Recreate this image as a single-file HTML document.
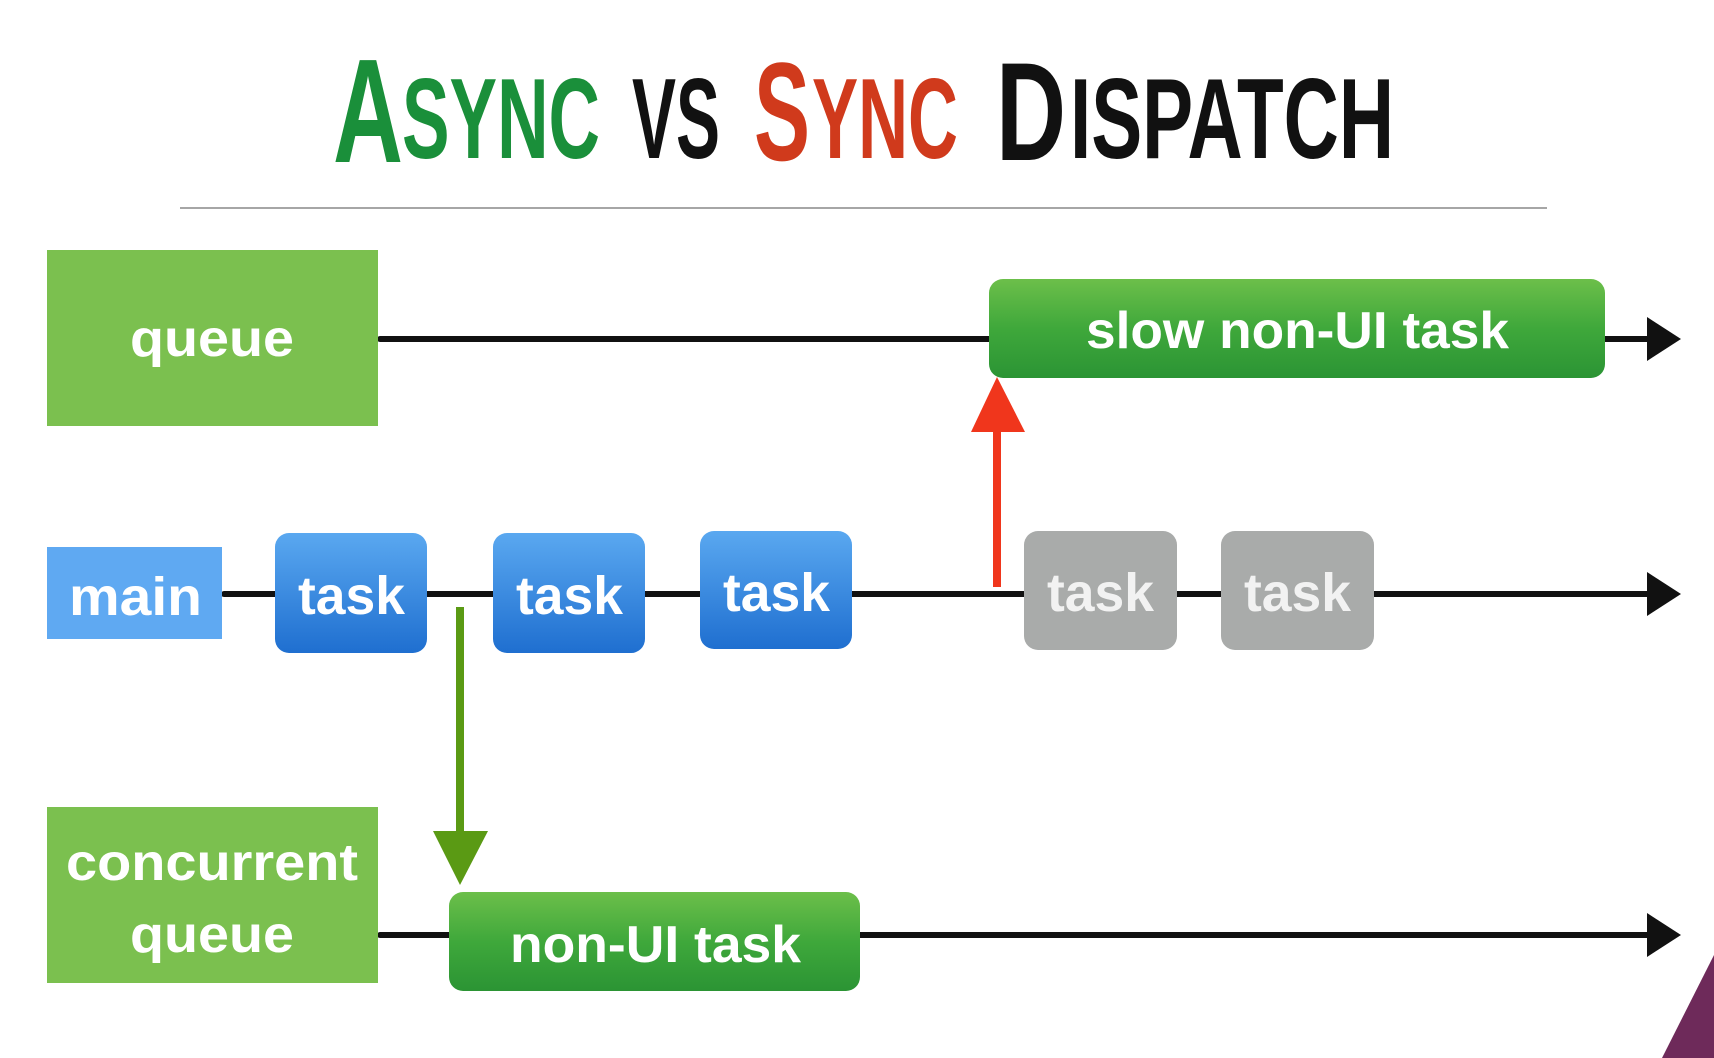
<!DOCTYPE html>
<html><head><meta charset="utf-8"><style>
html,body{margin:0;padding:0;background:#fff;width:1714px;height:1058px;overflow:hidden}
svg{display:block}
text{font-family:"Liberation Sans",sans-serif}
</style></head><body>
<svg width="1714" height="1058" viewBox="0 0 1714 1058" xmlns="http://www.w3.org/2000/svg">
<defs>
<linearGradient id="gg" x1="0" y1="0" x2="0" y2="1"><stop offset="0" stop-color="#6cbf4a"/><stop offset="0.5" stop-color="#3fa83b"/><stop offset="1" stop-color="#2b9434"/></linearGradient>
<linearGradient id="bg" x1="0" y1="0" x2="0" y2="1"><stop offset="0" stop-color="#5aa8f0"/><stop offset="1" stop-color="#1f6fd0"/></linearGradient>
</defs>
<!-- title -->
<g font-weight="bold" font-family="Liberation Sans Narrow, Liberation Sans, sans-serif">
<text x="333" y="162" font-size="148" fill="#1a8f3a" textLength="70" lengthAdjust="spacingAndGlyphs">A</text>
<text x="402" y="158" font-size="114" fill="#1a8f3a" textLength="198" lengthAdjust="spacingAndGlyphs">SYNC</text>
<text x="632" y="158" font-size="114" fill="#111" textLength="88" lengthAdjust="spacingAndGlyphs">VS</text>
<text x="754" y="160" font-size="140" fill="#d03a1c" textLength="56" lengthAdjust="spacingAndGlyphs">S</text>
<text x="812" y="158" font-size="114" fill="#d03a1c" textLength="146" lengthAdjust="spacingAndGlyphs">YNC</text>
<text x="996" y="160" font-size="140" fill="#111" textLength="70" lengthAdjust="spacingAndGlyphs">D</text>
<text x="1070" y="158" font-size="114" fill="#111" textLength="324" lengthAdjust="spacingAndGlyphs">ISPATCH</text>
</g>
<line x1="180" y1="208" x2="1547" y2="208" stroke="#888" stroke-width="1.5"/>

<!-- lines -->
<g stroke="#111" stroke-width="6" stroke-linecap="round">
<line x1="380" y1="339" x2="1650" y2="339"/>
<line x1="224" y1="594" x2="1650" y2="594"/>
<line x1="380" y1="935" x2="1650" y2="935"/>
</g>
<g fill="#111">
<polygon points="1647,317 1681,339 1647,361"/>
<polygon points="1647,572 1681,594 1647,616"/>
<polygon points="1647,913 1681,935 1647,957"/>
</g>

<!-- queue -->
<rect x="47" y="250" width="331" height="176" fill="#7bc04f"/>
<text x="130" y="356" font-size="52" font-weight="bold" fill="#fff" textLength="164" lengthAdjust="spacingAndGlyphs">queue</text>
<rect x="989" y="279" width="616" height="99" rx="14" fill="url(#gg)"/>
<text x="1086" y="348" font-size="52" font-weight="bold" fill="#fff" textLength="423" lengthAdjust="spacingAndGlyphs">slow non-UI task</text>

<!-- main -->
<rect x="47" y="547" width="175" height="92" fill="#5fa9f2"/>
<text x="69" y="615" font-size="54" font-weight="bold" fill="#fff" textLength="133" lengthAdjust="spacingAndGlyphs">main</text>
<rect x="275" y="533" width="152" height="120" rx="14" fill="url(#bg)"/>
<text x="298" y="614" font-size="54" font-weight="bold" fill="#fff" textLength="107" lengthAdjust="spacingAndGlyphs">task</text>
<rect x="493" y="533" width="152" height="120" rx="14" fill="url(#bg)"/>
<text x="516" y="614" font-size="54" font-weight="bold" fill="#fff" textLength="107" lengthAdjust="spacingAndGlyphs">task</text>
<rect x="700" y="531" width="152" height="118" rx="14" fill="url(#bg)"/>
<text x="723" y="611" font-size="54" font-weight="bold" fill="#fff" textLength="107" lengthAdjust="spacingAndGlyphs">task</text>
<rect x="1024" y="531" width="153" height="119" rx="14" fill="#a9abaa"/>
<text x="1047" y="611" font-size="54" font-weight="bold" fill="#f2f2f2" textLength="107" lengthAdjust="spacingAndGlyphs">task</text>
<rect x="1221" y="531" width="153" height="119" rx="14" fill="#a9abaa"/>
<text x="1244" y="611" font-size="54" font-weight="bold" fill="#f2f2f2" textLength="107" lengthAdjust="spacingAndGlyphs">task</text>

<!-- red arrow -->
<line x1="997" y1="587" x2="997" y2="420" stroke="#f0361c" stroke-width="8"/>
<polygon points="971,432 997,377 1025,432" fill="#f0361c"/>
<!-- green arrow -->
<line x1="460" y1="607" x2="460" y2="845" stroke="#5a9a14" stroke-width="8"/>
<polygon points="433,831 460,885 488,831" fill="#5a9a14"/>

<!-- concurrent queue -->
<rect x="47" y="807" width="331" height="176" fill="#7bc04f"/>
<text x="66" y="880" font-size="52" font-weight="bold" fill="#fff" textLength="292" lengthAdjust="spacingAndGlyphs">concurrent</text>
<text x="130" y="952" font-size="52" font-weight="bold" fill="#fff" textLength="164" lengthAdjust="spacingAndGlyphs">queue</text>
<rect x="449" y="892" width="411" height="99" rx="14" fill="url(#gg)"/>
<text x="510" y="962" font-size="52" font-weight="bold" fill="#fff" textLength="291" lengthAdjust="spacingAndGlyphs">non-UI task</text>

<!-- corner shape -->
<polygon points="1714,955 1714,1058 1662,1058" fill="#6e2a5a"/>
</svg>
</body></html>
